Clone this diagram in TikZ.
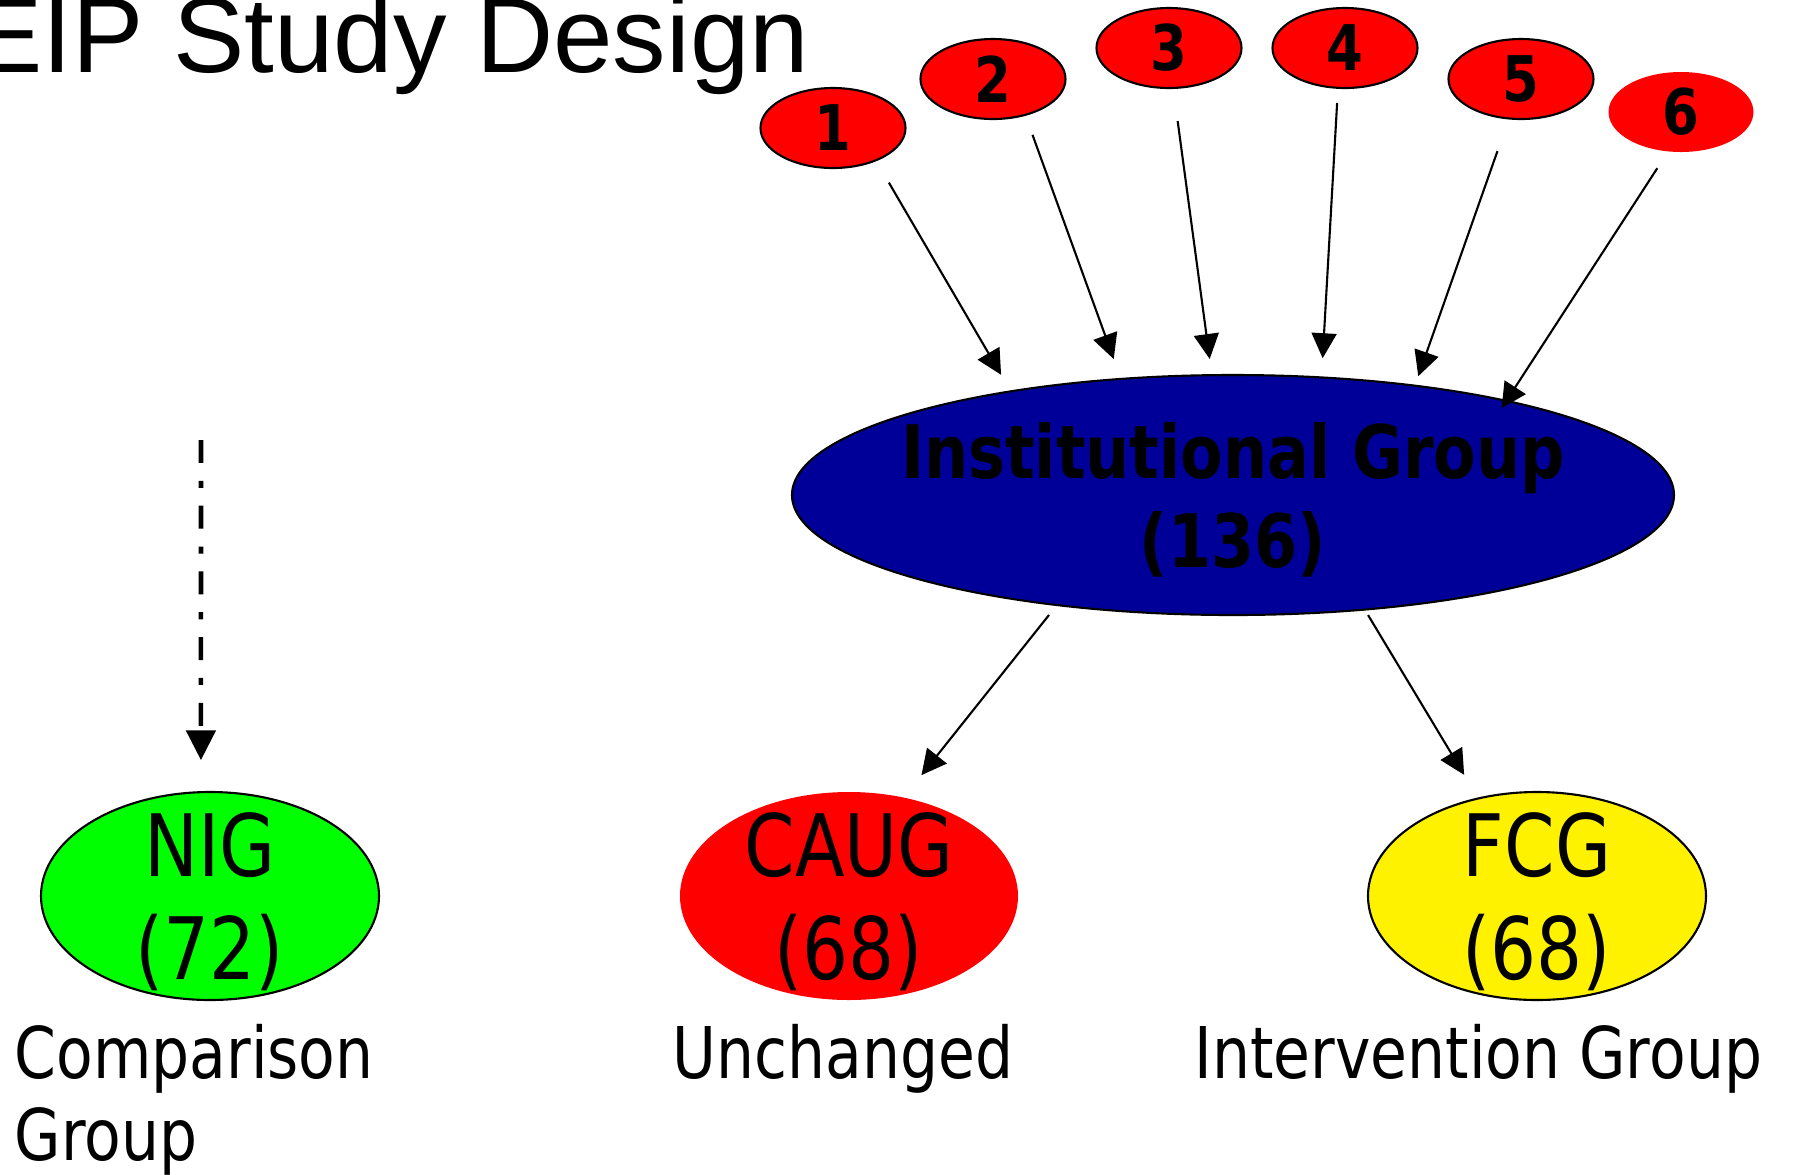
\documentclass[tikz,border=0pt]{standalone}
\usepackage{fontspec}
\setmainfont{Liberation Sans}
\newfontfamily\grpfont[FakeStretch=0.84]{DejaVu Sans}
\usepackage{xcolor}
\usepackage{tikz}
\usetikzlibrary{shapes.geometric, arrows.meta}

\definecolor{igblue}{RGB}{0,0,153}

\begin{document}
\begin{tikzpicture}[
  num/.style={ellipse, draw, line width=0.6pt, fill=red, minimum width=1.45cm, minimum height=0.8cm,
              inner sep=0pt, outer sep=0pt, font=\grpfont\bfseries\fontsize{17.9}{20}\selectfont},
  grp/.style={ellipse, draw, line width=0.6pt, minimum width=3.38cm, minimum height=2.08cm, outer sep=0pt},
  grptxt/.style={align=center, inner sep=0pt, yshift=-0.6mm, font=\grpfont\fontsize{24.5}{29.3}\selectfont},
  lbl/.style={anchor=base west, align=left, inner sep=0pt, font=\grpfont\fontsize{20.3}{23.3}\selectfont},
  arr/.style={-{Triangle[length=7.1pt, width=7.1pt]}, line width=0.6pt},
  dasharr/.style={-{Triangle[length=8.5pt, width=8.3pt]}, line width=1.3pt,
                  dash pattern=on 6.5pt off 5.1pt on 2pt off 5.1pt},
]
  \useasboundingbox (0,0) rectangle (18,-11.74);
  % Titulo
  \node[anchor=base west, inner sep=0pt, font=\fontsize{30.4}{36}\selectfont] (title) at (-0.29,-0.72) {EIP Study Design};
  % Fila 0: las seis fuentes
  \node[num]            (n1) at ( 8.33, -1.28) {1};
  \node[num]            (n2) at ( 9.93, -0.79) {2};
  \node[num]            (n3) at (11.69, -0.48) {3};
  \node[num]            (n4) at (13.45, -0.48) {4};
  \node[num]            (n5) at (15.21, -0.79) {5};
  \node[num, draw=none] (n6) at (16.81, -1.12) {6};
  % Fila 1: grupo institucional
  \node[ellipse, draw, line width=0.6pt, fill=igblue, minimum width=8.82cm, minimum height=2.40cm,
        outer sep=0pt] (ig) at (12.33, -4.95) {};
  \node[align=center, inner sep=0pt, yshift=-0.5mm, font=\grpfont\bfseries\fontsize{21}{25.3}\selectfont]
        (igtxt) at (ig.center) {Institutional Group\\(136)};
  % Fila 2: los tres grupos
  \node[grp, fill=green]           (nig)  at ( 2.10, -8.96) {};
  \node[grp, draw=none, fill=red]  (caug) at ( 8.49, -8.96) {};
  \node[grp, fill=yellow]          (fcg)  at (15.37, -8.96) {};
  \node[grptxt] (nigtxt)  at (nig.center)  {NIG\\(72)};
  \node[grptxt] (caugtxt) at (caug.center) {CAUG\\(68)};
  \node[grptxt] (fcgtxt)  at (fcg.center)  {FCG\\(68)};
  % Fila 3: etiquetas (base = ultima linea)
  \node[lbl] (cmp)  at ( 0.14, -11.60) {Comparison\\Group};
  \node[lbl] (unch) at ( 6.72, -10.78) {Unchanged};
  \node[lbl] (intv) at (11.94, -10.78) {Intervention Group};
  % Flechas
  \coordinate (dtop) at (2.01, -4.40);
  \draw[dasharr, shorten >=0.32cm] (dtop) -- (nig.95);
  \draw[arr, shorten <=0.259cm, shorten >=0.192cm]  (n1.-37.9)  -- (ig.155.2);
  \draw[arr, shorten <=0.213cm, shorten >=0.212cm]  (n2.-48.6)  -- (ig.134.2);
  \draw[arr, shorten <=0.334cm, shorten >=0.163cm]  (n3.-84.7)  -- (ig.100.8);
  \draw[arr, shorten <=0.152cm, shorten >=0.193cm]  (n4.-100)   -- (ig.53.6);
  \draw[arr, shorten <=0.346cm, shorten >=0.101cm]  (n5.-107.5) -- (ig.31.2);
  \draw[arr, shorten <=0.200cm, shorten >=-0.087cm] (n6.-108.1) -- (ig.19.5);
  \draw[arr, shorten <=0.127cm, shorten >=0.287cm]  (ig.-148)   -- (caug.61.25);
  \draw[arr, shorten <=0.065cm, shorten >=0.276cm]  (ig.-41)    -- (fcg.121.1);
\end{tikzpicture}
\end{document}
